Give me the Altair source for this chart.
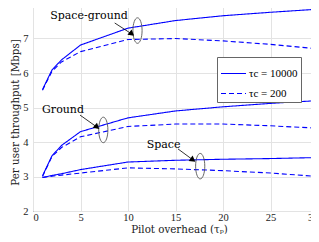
import altair as alt
import pandas as pd

SERIF = "DejaVu Serif"
TIMES = "Liberation Serif"
BLUE = "#0000ff"

x_vals = [1, 2, 3, 5, 10, 15, 20, 25, 30]
sg_long = [5.52, 6.09, 6.38, 6.81, 7.30, 7.52, 7.66, 7.76, 7.85]
sg_short = [5.50, 6.05, 6.32, 6.62, 6.97, 7.00, 6.93, 6.83, 6.70]
gr_long = [3.02, 3.60, 3.90, 4.30, 4.70, 4.90, 5.02, 5.12, 5.20]
gr_short = [3.00, 3.58, 3.84, 4.15, 4.45, 4.52, 4.52, 4.47, 4.40]
sp_long = [2.97, 3.03, 3.08, 3.20, 3.42, 3.47, 3.50, 3.52, 3.55]
sp_short = [2.97, 3.01, 3.04, 3.10, 3.25, 3.22, 3.17, 3.10, 3.00]
legend_labels = ["τc = 10000", "τc = 200"]
x_ticks = [0, 5, 10, 15, 20, 25, 30]
y_ticks = [2, 3, 4, 5, 6, 7, 8]

rows = []
for name, lo, sh in [("Space-ground", sg_long, sg_short), ("Ground", gr_long, gr_short), ("Space", sp_long, sp_short)]:
    for xv, yv in zip(x_vals, lo):
        rows.append({"group": name, "tau": legend_labels[0], "x": xv, "y": yv})
    for xv, yv in zip(x_vals, sh):
        rows.append({"group": name, "tau": legend_labels[1], "x": xv, "y": yv})
df = pd.DataFrame(rows)

label_text = ["Space-ground", "Ground", "Space"]
label_x = [5.9, 3.16, 13.75]
label_y = [7.65, 4.93, 3.91]
ell_x = [11.0, 7.4, 17.6]
ell_y = [7.23, 4.35, 3.30]
arr_x1 = [8.6, 4.95, 15.26]
arr_y1 = [7.45, 4.78, 3.80]
arr_x2 = [10.4, 6.74, 16.84]
arr_y2 = [7.13, 4.43, 3.48]
arr_angle = [128, 130, 126]

ann = pd.DataFrame({"text": label_text, "lx": label_x, "ly": label_y,
                    "ex": ell_x, "ey": ell_y,
                    "x1": arr_x1, "y1": arr_y1, "x2": arr_x2, "y2": arr_y2,
                    "angle": arr_angle})

xscale = alt.Scale(domain=[0, 30], nice=False)
yscale = alt.Scale(domain=[2, 8], nice=False)
xax = alt.Axis(values=x_ticks, tickCount=7, title="Pilot overhead (τₚ)", labelOverlap=False,
               titleX=146, titleY=21, titleBaseline="alphabetic", titleAlign="center")
yax = alt.Axis(values=y_ticks, tickCount=7, title="Per user throughput [Mbps]",
               labelOverlap=False, labelSeparation=0,
               titleX=-18, titleY=108, titleBaseline="middle", titleAlign="center", titleAngle=270)


def X(f):
    return alt.X(f, type="quantitative", scale=xscale, axis=xax)


def Y(f):
    return alt.Y(f, type="quantitative", scale=yscale, axis=yax)


lines = alt.Chart(df).mark_line(color=BLUE, strokeWidth=1.1).encode(
    x=X("x"), y=Y("y"),
    color=alt.value(BLUE),
    strokeDash=alt.StrokeDash("tau:N", scale=alt.Scale(domain=legend_labels, range=[[1, 0], [5, 3]]),
                              legend=alt.Legend(title=None, orient="none", legendX=184, legendY=53,
                                                symbolType="stroke", symbolSize=625,
                                                symbolStrokeColor=BLUE, symbolStrokeWidth=1.1,
                                                labelFont=TIMES, labelFontSize=11,
                                                labelOffset=2, strokeColor="#666", fillColor="white",
                                                padding=3, rowPadding=1, labelColor="black",
                                                cornerRadius=0)),
    detail="group:N",
)

texts = alt.Chart(ann).mark_text(font=SERIF, fontSize=11, color="black").encode(
    x=X("lx"), y=Y("ly"), text="text:N")

ellipse_path = "M -0.36 0 A 0.36 1 0 1 1 0.36 0 A 0.36 1 0 1 1 -0.36 0 Z"
ellipses = alt.Chart(ann).mark_point(shape=ellipse_path, size=650, filled=False,
                                     color="#555", strokeWidth=0.9, opacity=1).encode(
    x=X("ex"), y=Y("ey"))

arrows = alt.Chart(ann).mark_rule(color="black", strokeWidth=0.8).encode(
    x=X("x1"), y=Y("y1"), x2="x2:Q", y2="y2:Q")

heads = alt.Chart(ann).mark_point(shape="triangle-up", size=45, filled=True, color="black",
                                  opacity=1).encode(
    x=X("x2"), y=Y("y2"), angle=alt.Angle("angle:Q", scale=None))

chart = alt.layer(lines, ellipses, arrows, heads, texts).properties(
    width=285, height=207, autosize=alt.AutoSizeParams(type="none"),
    padding={"top": -4, "left": 25, "right": -7, "bottom": 23}
).configure_view(stroke="#444", strokeWidth=1).configure_axis(
    labelFont=TIMES, titleFont=SERIF, labelFontSize=10.5, titleFontSize=10.3,
    titleFontWeight="normal", labelColor="#222", titleColor="#222",
    gridColor="#e3e3e3", gridWidth=1, domain=False, ticks=False,
    labelOverlap=False,
).configure_axisX(labelPadding=1).configure_axisY(labelPadding=5, labelOverlap=False)

chart.save("out.html", embed_options={"renderer": "svg", "actions": False})
